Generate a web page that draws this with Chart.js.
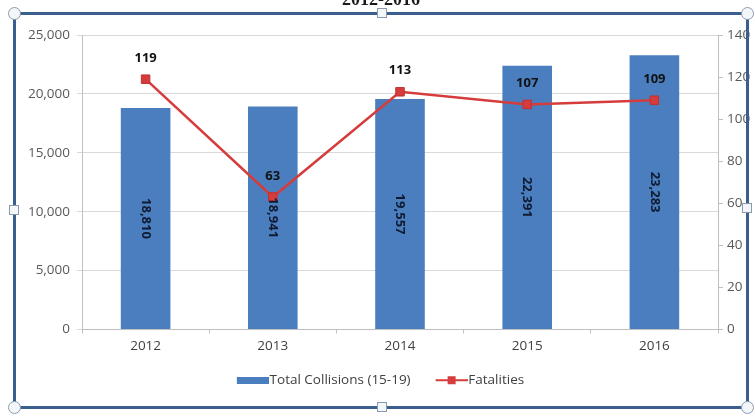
<!DOCTYPE html>
<html>
<head>
<meta charset="utf-8">
<script src="https://cdn.jsdelivr.net/npm/chart.js@4.4.1/dist/chart.umd.min.js"></script>
<style>
  html, body { margin: 0; padding: 0; background: #fff; overflow: hidden; }
  #wrap { position: relative; width: 755px; height: 416px; }
  #chart { position: absolute; left: 0; top: 0; }
  .title { position: absolute; left: 0; width: 762px; top: -11px; text-align: center;
           font: bold 18px "Liberation Serif", "DejaVu Serif", serif; color: #1a1a1a; }
  .edge { position: absolute; background: #3a5f8f; }
  .hc { position: absolute; width: 11px; height: 11px; border-radius: 50%;
        background: #f4f7fa; border: 1px solid #8a9bb0; }
  .hs { position: absolute; width: 8px; height: 8px; background: #f4f7fa; border: 1px solid #8a9bb0; }
</style>
</head>
<body>
<div id="wrap">
  <canvas id="chart" width="755" height="416"></canvas>
  <div class="title">2012-2016</div>
  <div class="edge" style="left:13px; top:12px; width:736px; height:3px;"></div>
  <div class="edge" style="left:13px; top:406px; width:736px; height:3px;"></div>
  <div class="edge" style="left:13px; top:12px; width:3px; height:396px;"></div>
  <div class="edge" style="left:746px; top:12px; width:3px; height:396px;"></div>
  <div class="hc" style="left:8px; top:7px;"></div>
  <div class="hc" style="left:741px; top:7px;"></div>
  <div class="hc" style="left:8px; top:401px;"></div>
  <div class="hc" style="left:741px; top:401px;"></div>
  <div class="hs" style="left:377px; top:8px;"></div>
  <div class="hs" style="left:377px; top:402px;"></div>
  <div class="hs" style="left:9px; top:205px;"></div>
  <div class="hs" style="left:742px; top:203px;"></div>
</div>
<script>
const years = ["2012", "2013", "2014", "2015", "2016"];
const collisions = [18810, 18941, 19557, 22391, 23283];
const fatalities = [119, 63, 113, 107, 109];

const barBlue = "#4a7ebf";
const lineRed = "#d63c3c";

// legend icons (drawn on the right part so the text sits close to them)
const barIcon = document.createElement("canvas");
barIcon.width = 44; barIcon.height = 7;
let g = barIcon.getContext("2d");
g.fillStyle = barBlue;
g.fillRect(12, 0, 32, 7);

const lineIcon = document.createElement("canvas");
lineIcon.width = 44; lineIcon.height = 10;
g = lineIcon.getContext("2d");
g.strokeStyle = lineRed; g.lineWidth = 2;
g.beginPath(); g.moveTo(12, 5); g.lineTo(44, 5); g.stroke();
g.fillStyle = lineRed;
g.fillRect(24, 1, 8, 8);

const valueLabels = {
    id: "valueLabels",
    afterDatasetsDraw(chart) {
        const ctx = chart.ctx;
        ctx.save();
        // bar values, rotated
        chart.getDatasetMeta(0).data.forEach(function (bar, i) {
            const cy = (bar.y + bar.base) / 2;
            ctx.save();
            ctx.translate(bar.x, cy);
            ctx.rotate(Math.PI / 2);
            ctx.font = "bold 13px 'Open Sans', sans-serif";
            ctx.fillStyle = "#101a30";
            ctx.textAlign = "center";
            ctx.textBaseline = "middle";
            ctx.fillText(collisions[i].toLocaleString("en-US"), 0, 0);
            ctx.restore();
        });
        // fatality values above points
        chart.getDatasetMeta(1).data.forEach(function (pt, i) {
            ctx.font = "bold 13px 'Open Sans', sans-serif";
            ctx.fillStyle = "#111";
            ctx.textAlign = "center";
            ctx.textBaseline = "middle";
            ctx.fillText(String(fatalities[i]), pt.x, pt.y - 21);
        });
        ctx.restore();
    }
};

const tickFont = { family: "'Open Sans', sans-serif", size: 13.5 };

new Chart(document.getElementById("chart"), {
    type: "bar",
    data: {
        labels: years,
        datasets: [{
            type: "bar",
            label: "Total Collisions (15-19)",
            data: collisions,
            backgroundColor: barBlue,
            yAxisID: "y",
            order: 2,
            barPercentage: 0.39,
            categoryPercentage: 1
        }, {
            type: "line",
            label: "Fatalities",
            data: fatalities,
            borderColor: lineRed,
            backgroundColor: lineRed,
            borderWidth: 2.5,
            pointStyle: "rect",
            pointRadius: 6,
            pointBackgroundColor: lineRed,
            pointBorderColor: "#c23030",
            pointBorderWidth: 1,
            tension: 0,
            yAxisID: "y1",
            order: 1
        }]
    },
    options: {
        responsive: false,
        animation: false,
        layout: { padding: { top: 35, bottom: 19, left: 0, right: 0 } },
        plugins: {
            tooltip: { enabled: false },
            legend: {
                position: "bottom",
                labels: {
                    usePointStyle: true,
                    pointStyleWidth: 32,
                    padding: 19,
                    color: "#404040",
                    font: { family: "'Open Sans', sans-serif", size: 13.5 },
                    sort: function (a, b) { return a.datasetIndex - b.datasetIndex; },
                    generateLabels: function (chart) {
                        const items = Chart.defaults.plugins.legend.labels.generateLabels(chart);
                        items.forEach(function (it) {
                            it.pointStyle = it.datasetIndex === 0 ? barIcon : lineIcon;
                        });
                        return items;
                    }
                }
            }
        },
        scales: {
            x: {
                offset: true,
                grid: { display: true, drawOnChartArea: false, tickLength: 4, color: "#bfbfbf" },
                border: { color: "#bfbfbf" },
                ticks: { color: "#404040", font: tickFont, padding: 5 },
                afterFit: function (s) { s.height = 25; }
            },
            y: {
                position: "left",
                min: 0, max: 25000,
                ticks: {
                    stepSize: 5000, color: "#595959", font: tickFont, padding: 7,
                    callback: function (v) { return v.toLocaleString("en-US"); }
                },
                grid: { color: "#d9d9d9", tickLength: 5 },
                border: { color: "#bfbfbf" },
                afterFit: function (s) { s.width = 82; }
            },
            y1: {
                position: "right",
                min: 0, max: 140,
                ticks: { stepSize: 20, color: "#595959", font: tickFont, padding: 4 },
                grid: { drawOnChartArea: false, tickLength: 5, color: "#bfbfbf" },
                border: { color: "#bfbfbf" },
                afterFit: function (s) { s.width = 37; }
            }
        }
    },
    plugins: [valueLabels]
});
</script>
</body>
</html>
